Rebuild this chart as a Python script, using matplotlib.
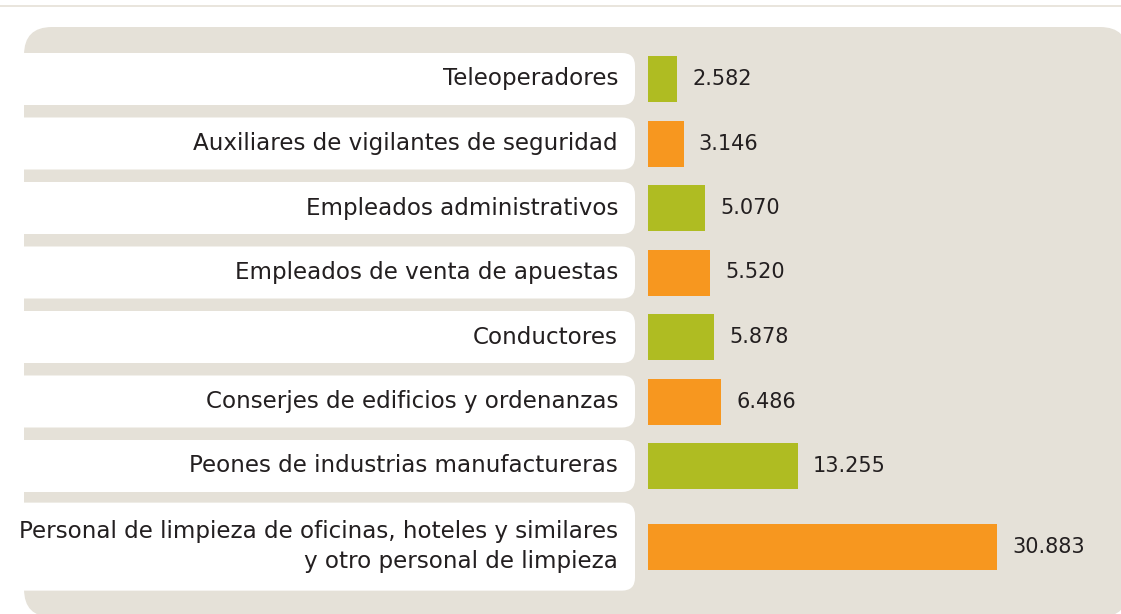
import matplotlib
matplotlib.use("Agg")
import matplotlib.pyplot as plt
from matplotlib.patches import FancyBboxPatch, Rectangle

categories = [
    "Teleoperadores",
    "Auxiliares de vigilantes de seguridad",
    "Empleados administrativos",
    "Empleados de venta de apuestas",
    "Conductores",
    "Conserjes de edificios y ordenanzas",
    "Peones de industrias manufactureras",
    "Personal de limpieza de oficinas, hoteles y similares\ny otro personal de limpieza",
]
values = [2582, 3146, 5070, 5520, 5878, 6486, 13255, 30883]
value_labels = ["2.582", "3.146", "5.070", "5.520", "5.878", "6.486", "13.255", "30.883"]
colors = ["#afbc22", "#f7971f"] * 4
row_pos = [0, 1, 2, 3, 4, 5, 6, 7.25]

W, H = 1121, 614
DPI = 100
fig = plt.figure(figsize=(W / DPI, H / DPI), dpi=DPI)
fig.patch.set_facecolor("white")

# background axes in pixel coordinates
bg = fig.add_axes([0, 0, 1, 1])
bg.set_xlim(0, W)
bg.set_ylim(H, 0)
bg.axis("off")

BEIGE = "#e5e1d8"
bg.add_patch(Rectangle((0, 4.5), W, 2.5, facecolor="#e9e5dd", edgecolor="none"))
bg.add_patch(FancyBboxPatch((24 + 28, 27 + 28), 1128 - 24 - 56, 617 - 27 - 56,
                            boxstyle="round,pad=28", facecolor=BEIGE, edgecolor="none"))

ROW0, STEP = 79.0, 64.5
for i, p in enumerate(row_pos):
    yc = ROW0 + STEP * p
    h = 88 if "\n" in categories[i] else 52
    r = 13
    bg.add_patch(FancyBboxPatch((-40 + r, yc - h / 2 + r), 635 + 40 - 2 * r, h - 2 * r,
                                boxstyle=f"round,pad={r}", facecolor="white", edgecolor="none"))
    bg.text(618, yc, categories[i], ha="right", va="center", fontsize=16.6,
            color="#231f20", family="DejaVu Sans", linespacing=1.41)

# bar axes
x0 = 648
ax = fig.add_axes([x0 / W, 0, (W - x0) / W, 1])
ax.patch.set_alpha(0)
xmax = 30883 * (W - x0) / (997 - x0)
ax.set_xlim(0, xmax)
top = -ROW0 / STEP
bottom = (H - ROW0) / STEP
ax.set_ylim(bottom, top)
ax.axis("off")

ax.barh(row_pos, values, height=46 / STEP, color=colors, edgecolor="none")
px = xmax / (W - x0)
for p, v, lab in zip(row_pos, values, value_labels):
    ax.text(v + 15 * px, p, lab, ha="left", va="center", fontsize=15,
            color="#231f20", family="DejaVu Sans")

fig.savefig("out.png", dpi=DPI)
